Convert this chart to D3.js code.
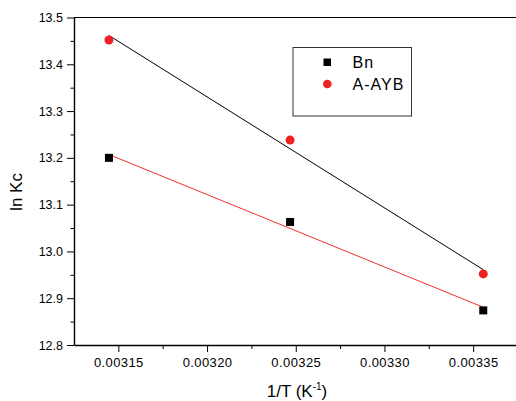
<!DOCTYPE html>
<html>
<head>
<meta charset="utf-8">
<script src="https://cdn.jsdelivr.net/npm/d3@7"></script>
<style>
  body { margin: 0; background: #fff; }
  svg { display: block; font-family: "Liberation Sans", Arial, sans-serif; }
  .axis path, .axis line { stroke: #000; }
  .axis text { fill: #000; font-family: "Liberation Sans", Arial, sans-serif; }
</style>
</head>
<body>
<svg id="chart" width="516" height="401"></svg>
<script>
// 1/T values (K^-1) for 318, 308, 298 K
var invT = [0.0031447, 0.0032468, 0.0033557];
var bn = [13.200, 13.063, 12.874];
var aayb = [13.452, 13.238, 12.952];

var xMajor = [0.00315, 0.00320, 0.00325, 0.00330, 0.00335];
var xMinor = [0.003175, 0.003225, 0.003275, 0.003325, 0.003375];
var yMajor = [12.8, 12.9, 13.0, 13.1, 13.2, 13.3, 13.4, 13.5];
var yMinor = [12.85, 12.95, 13.05, 13.15, 13.25, 13.35, 13.45];

var seriesNames = ["Bn", "A-AYB"];

var padL = 74, padR = 517.5, padT = 17.5, padB = 345;

var svg = d3.select("#chart");

var x = d3.scaleLinear().domain([0.003125, 0.003375]).range([padL, padR]);
var y = d3.scaleLinear().domain([12.8, 13.5]).range([padB, padT]);

// least squares fit
function fit(xs, ys) {
  var mx = d3.mean(xs), my = d3.mean(ys);
  var sxy = 0, sxx = 0;
  xs.forEach(function(v, i) {
    sxy += (v - mx) * (ys[i] - my);
    sxx += (v - mx) * (v - mx);
  });
  var b = sxy / sxx;
  return function(v) { return my + b * (v - mx); };
}

var line = d3.line()
  .x(function(d) { return x(d); });

var xEnds = d3.extent(invT);

// fit lines: black through A-AYB, red through Bn
var fA = fit(invT, aayb), fB = fit(invT, bn);

svg.append("path")
  .attr("d", line.y(function(d) { return y(fA(d)); })(xEnds))
  .attr("fill", "none").attr("stroke", "#000").attr("stroke-width", 1);

svg.append("path")
  .attr("d", line.y(function(d) { return y(fB(d)); })(xEnds))
  .attr("fill", "none").attr("stroke", "#f03030").attr("stroke-width", 1);

// top frame line
svg.append("line")
  .attr("x1", padL).attr("x2", 516)
  .attr("y1", padT).attr("y2", padT)
  .attr("stroke", "#000").attr("stroke-width", 1.2);

// axes
svg.append("g").attr("class", "axis")
  .attr("transform", "translate(" + padL + ",0)")
  .call(d3.axisLeft(y).tickValues(yMinor).tickSize(3.5).tickSizeOuter(0).tickFormat(""))
  .call(function(g) { g.select(".domain").remove(); });

svg.append("g").attr("class", "axis")
  .attr("transform", "translate(" + padL + ",0)")
  .call(d3.axisLeft(y).tickValues(yMajor).tickSize(7).tickSizeOuter(0).tickPadding(4)
    .tickFormat(d3.format(".1f")))
  .call(function(g) {
    g.select(".domain").attr("stroke-width", 1.4);
    g.selectAll("text").style("font-size", "12.5px");
  });

svg.append("g").attr("class", "axis")
  .attr("transform", "translate(0," + padB + ")")
  .call(d3.axisBottom(x).tickValues(xMinor).tickSize(4).tickSizeOuter(0).tickFormat(""))
  .call(function(g) { g.select(".domain").remove(); });

svg.append("g").attr("class", "axis")
  .attr("transform", "translate(0," + padB + ")")
  .call(d3.axisBottom(x).tickValues(xMajor).tickSize(7).tickSizeOuter(0).tickPadding(6)
    .tickFormat(d3.format(".5f")))
  .call(function(g) {
    g.select(".domain").attr("stroke-width", 1.4);
    g.selectAll("text").style("font-size", "13px").attr("letter-spacing", 0.4);
  });

// points
svg.selectAll(".sq").data(invT).enter().append("rect")
  .attr("class", "sq")
  .attr("x", function(d) { return x(d) - 4; })
  .attr("y", function(d, i) { return y(bn[i]) - 4; })
  .attr("width", 8).attr("height", 8)
  .attr("fill", "#000");

svg.selectAll(".dot").data(invT).enter().append("circle")
  .attr("class", "dot")
  .attr("cx", function(d) { return x(d); })
  .attr("cy", function(d, i) { return y(aayb[i]); })
  .attr("r", 4.5)
  .attr("fill", "#ee2222");

// legend
var lg = svg.append("g");
lg.append("rect")
  .attr("x", 293).attr("y", 47.5).attr("width", 118.5).attr("height", 68.5)
  .attr("fill", "#fff").attr("stroke", "#333").attr("stroke-width", 1);
lg.append("rect").attr("x", 323.5).attr("y", 58.5).attr("width", 7.5).attr("height", 7.5).attr("fill", "#000");
lg.append("circle").attr("cx", 327.3).attr("cy", 84).attr("r", 4.3).attr("fill", "#ee2222");
lg.selectAll("text").data(seriesNames).enter().append("text")
  .attr("x", 352.5)
  .attr("y", function(d, i) { return 68 + i * 22; })
  .attr("font-size", 16)
  .attr("letter-spacing", 1)
  .text(function(d) { return d; });

// axis titles
svg.append("text")
  .attr("transform", "translate(22,192) rotate(-90)")
  .attr("text-anchor", "middle")
  .attr("font-size", 17)
  .text("ln Kc");

var xt = svg.append("text")
  .attr("x", 297).attr("y", 397)
  .attr("text-anchor", "middle")
  .attr("font-size", 17);
xt.append("tspan").text("1/T (K");
xt.append("tspan").attr("font-size", 10).attr("dy", -7).text("-1");
xt.append("tspan").attr("dy", 7).text(")");
</script>
</body>
</html>
